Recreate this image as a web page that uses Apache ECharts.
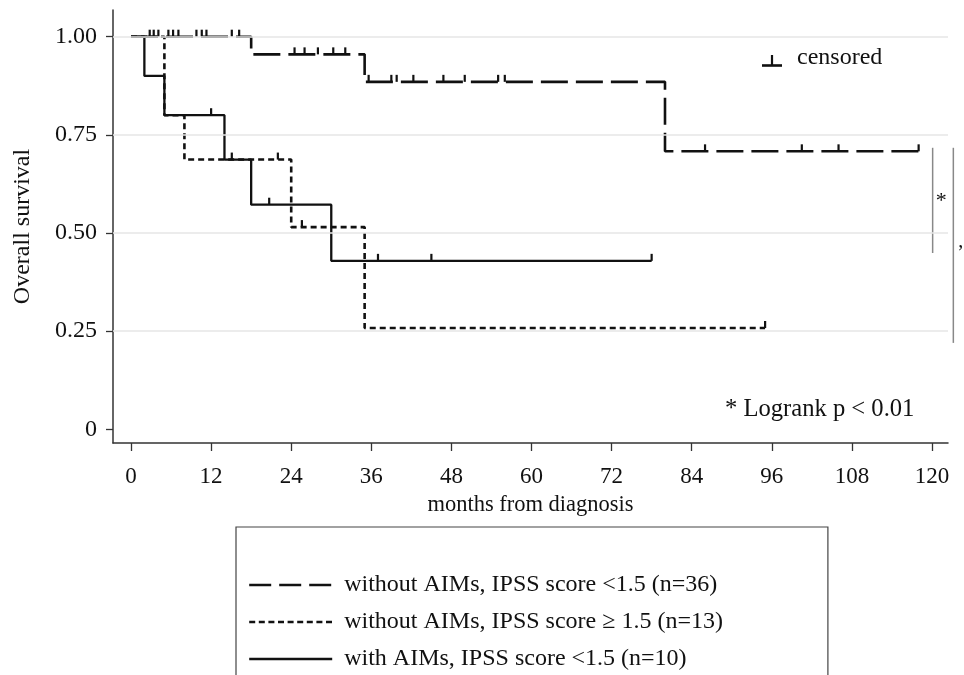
<!DOCTYPE html>
<html><head><meta charset="utf-8">
<script src="https://cdn.jsdelivr.net/npm/echarts@6/dist/echarts.min.js"></script>
<style>html,body{margin:0;padding:0;background:#fff}#c{width:964px;height:675px}</style>
</head><body><div id="c"></div>
<script>
// ---- data ----
const seriesNames = [
  'without AIMs, IPSS score <1.5 (n=36)',
  'without AIMs, IPSS score \u2265 1.5 (n=13)',
  'with AIMs, IPSS score <1.5 (n=10)'
];
// group 1: without AIMs, IPSS < 1.5 (long dashes)
const g1Times = [0, 18, 35, 80, 118];
const g1Surv  = [1.0, 0.955, 0.885, 0.708, 0.708];
const g1Censor = [2.8, 3.4, 4.1, 5.6, 6.3, 7.1, 9.8, 10.6, 11.3, 15.1, 16.2,
                  24.5, 26, 28, 30.3, 32.1,
                  35.6, 39, 39.8, 42.3, 46.8, 50, 55, 56,
                  86, 100.5, 106, 118];
// group 2: without AIMs, IPSS >= 1.5 (short dashes)
const g2Times = [0, 5, 8, 24, 35, 95];
const g2Surv  = [1.0, 0.80, 0.687, 0.515, 0.258, 0.258];
const g2Censor = [22, 25.6, 95];
// group 3: with AIMs, IPSS < 1.5 (solid)
const g3Times = [0, 2, 5, 14, 18, 30, 78];
const g3Surv  = [1.0, 0.90, 0.80, 0.687, 0.572, 0.429, 0.429];
const g3Censor = [12, 15.1, 20.7, 37, 45, 78];

const xTicks = [0, 12, 24, 36, 48, 60, 72, 84, 96, 108, 120];
const yTicks = [0, 0.25, 0.5, 0.75, 1.0];
const yGrid = [0.25, 0.5, 0.75, 1.0];

// ---- helpers ----
const FONT = "'Liberation Serif','Times New Roman',serif";
const INK = '#111';
function steps(t, s) { return t.map((x, i) => [x, s[i]]); }
function survAt(t, s, x) { let v = s[0]; for (let i = 0; i < t.length; i++) { if (t[i] <= x) v = s[i]; } return v; }
function censorPts(c, t, s) { return c.map(x => [x, survAt(t, s, x)]); }

const lineStyles = [
  { color: INK, width: 2.6, type: [27, 8] },
  { color: INK, width: 2.6, type: [6, 4] },
  { color: INK, width: 2.3, type: 'solid' }
];
const legendDash = [[22, 8], [6, 3.6], 'solid'];
const groups = [[g1Times, g1Surv, g1Censor], [g2Times, g2Surv, g2Censor], [g3Times, g3Surv, g3Censor]];

const series = [];
series.push({
  type: 'line', data: [], z: 0, silent: true,
  markLine: {
    silent: true, symbol: ['none', 'none'], label: { show: false },
    lineStyle: { color: '#e6e6e6', width: 1.5, type: 'solid' },
    data: yGrid.map(v => ({ yAxis: v }))
  }
});
groups.forEach((g, i) => {
  series.push({
    name: seriesNames[i], type: 'line', step: 'end', data: steps(g[0], g[1]),
    symbol: 'none', showSymbol: false, lineStyle: lineStyles[i],
    itemStyle: { color: INK }, z: 3, animation: false
  });
});
groups.forEach((g, i) => {
  series.push({
    name: 'censor' + i, type: 'scatter', data: censorPts(g[2], g[0], g[1]),
    symbol: 'rect', symbolSize: [2.2, 7], symbolOffset: [0, -3.5],
    itemStyle: { color: INK, opacity: 1 }, z: 4, animation: false
  });
});

const chart = echarts.init(document.getElementById('c'));
const option = {
  animation: false,
  backgroundColor: '#fff',
  textStyle: { fontFamily: FONT, color: INK },
  grid: { left: 113, right: 16, top: 10, bottom: 232, containLabel: false },
  xAxis: {
    type: 'value', min: -2.7, max: 122.4,
    name: 'months from diagnosis', nameLocation: 'middle', nameGap: 51,
    nameTextStyle: { fontFamily: FONT, fontSize: 22.5, color: INK },
    axisLine: { show: true, onZero: false, lineStyle: { color: '#333', width: 1.5 } },
    axisTick: { show: true, inside: false, length: 8, customValues: xTicks, lineStyle: { color: '#333', width: 1.3 } },
    axisLabel: { customValues: xTicks, margin: 22, fontFamily: FONT, fontSize: 23, color: INK },
    splitLine: { show: false }
  },
  yAxis: {
    type: 'value', min: -0.035, max: 1.068,
    name: 'Overall survival', nameLocation: 'middle', nameGap: 78, nameRotate: 90,
    nameTextStyle: { fontFamily: FONT, fontSize: 24, color: INK },
    axisLine: { show: true, onZero: false, lineStyle: { color: '#333', width: 1.5 } },
    axisTick: { show: true, inside: false, length: 7, customValues: yTicks, lineStyle: { color: '#333', width: 1.3 } },
    axisLabel: { customValues: yTicks, margin: 16, fontFamily: FONT, fontSize: 24, color: INK,
      formatter: v => (v === 0 ? '0' : v.toFixed(2)) },
    splitLine: { show: false }
  },
  legend: {
    data: seriesNames.map((n, i) => ({ name: n, lineStyle: { type: legendDash[i], width: 2.4, color: INK } })),
    orient: 'vertical', left: 236, top: 527, height: 200, width: 500,
    padding: [46, 105, 40, 12], itemGap: 13, itemWidth: 83, itemHeight: 14,
    borderColor: '#444', borderWidth: 1.2, borderRadius: 0,
    itemStyle: { opacity: 0, borderWidth: 0 },
    textStyle: { fontFamily: FONT, fontSize: 24, color: INK, padding: [0, 0, 0, 7] },
    selectedMode: false
  },
  series: series
};
chart.setOption(option);

// ---- annotations (data-space anchored) ----
const p = (x, y) => chart.convertToPixel({ gridIndex: 0 }, [x, y]);
const b1a = p(120.1, 0.717), b1b = p(120.1, 0.449);
const b2a = p(123.2, 0.717), b2b = p(123.2, 0.22);
chart.setOption({
  graphic: [
    { type: 'line', shape: { x1: b1a[0], y1: b1a[1], x2: b1b[0], y2: b1b[1] }, style: { stroke: '#888', lineWidth: 1.5 } },
    { type: 'line', shape: { x1: b2a[0], y1: b2a[1], x2: b2b[0], y2: b2b[1] }, style: { stroke: '#888', lineWidth: 1.5 } },
    { type: 'text', x: b1a[0] + 3, y: 190, style: { text: '*', font: '22px ' + FONT, fill: INK } },
    { type: 'text', x: b2a[0] + 5, y: 232, style: { text: ',', font: '20px ' + FONT, fill: INK } },
    // censored key
    { type: 'line', shape: { x1: 772, y1: 55, x2: 772, y2: 66 }, style: { stroke: INK, lineWidth: 2.2 } },
    { type: 'line', shape: { x1: 762, y1: 65.5, x2: 782, y2: 65.5 }, style: { stroke: INK, lineWidth: 2.6 } },
    { type: 'text', x: 797, y: 46, style: { text: 'censored', font: '24px ' + FONT, fill: INK } },
    { type: 'text', x: 725, y: 397, style: { text: '* Logrank p < 0.01', font: '24.6px ' + FONT, fill: INK } }
  ]
});
</script>
</body></html>
